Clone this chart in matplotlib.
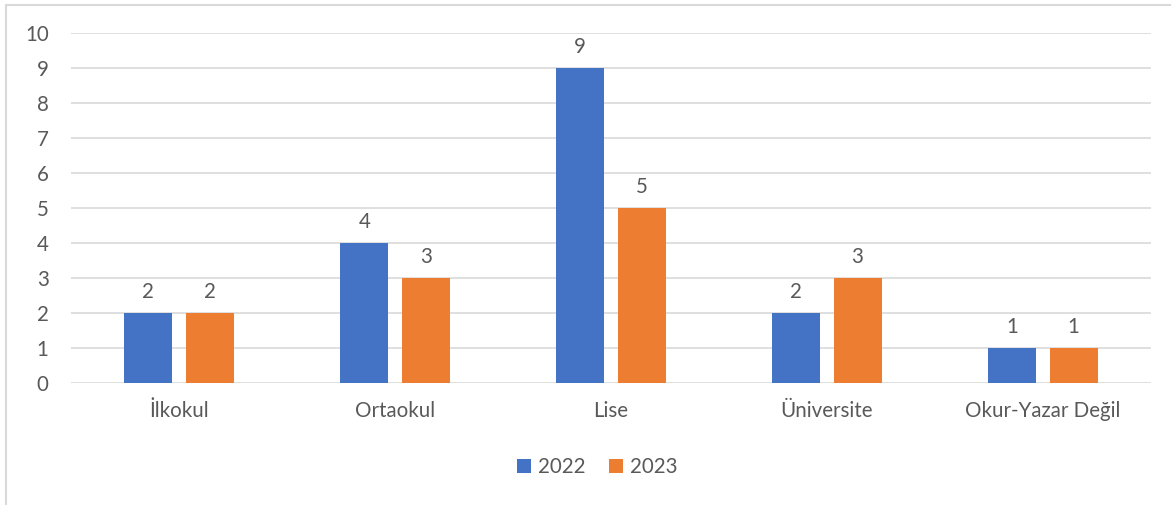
"""Grouped bar chart: education level counts 2022 vs 2023"""

import numpy as np
import matplotlib.pyplot as plt
from matplotlib.patches import Rectangle

categories = ['İlkokul', 'Ortaokul', 'Lise', 'Üniversite', 'Okur-Yazar Değil']
vals_2022 = [2, 4, 9, 2, 1]
vals_2023 = [2, 3, 5, 3, 1]
yticks = list(range(0, 11))

BLUE, ORANGE = '#4472C4', '#ED7D31'
TXT, GRID = '#595959', '#D9D9D9'
FS = 14.8
plt.rcParams['font.family'] = ['Lato', 'DejaVu Sans']

fig = plt.figure(figsize=(11.71, 5.05), dpi=100)
# chart frame: only top and left edges fall inside the image
fig.patches.append(Rectangle((0.005, -0.05), 1.1, 1.04, transform=fig.transFigure,
                             fill=False, edgecolor=GRID, linewidth=1.5))
ax = fig.add_axes([0.0606, 0.2416, 0.9222, 0.6931])

x = np.arange(len(categories))
w = 0.222; off = 0.142
b1 = ax.bar(x - off, vals_2022, w, color=BLUE, label='2022', zorder=3)
b2 = ax.bar(x + off, vals_2023, w, color=ORANGE, label='2023', zorder=3)
for bars in (b1, b2):
    ax.bar_label(bars, padding=8, fontsize=FS, color=TXT)

ax.set_xlim(-0.5, len(categories) - 0.5); ax.set_ylim(0, 10)
ax.set_yticks(yticks); ax.set_xticks(x, categories)
ax.grid(axis='y', color=GRID, linewidth=1.2, zorder=0)
for s in ax.spines.values(): s.set_visible(False)
ax.tick_params(length=0, labelsize=FS, labelcolor=TXT)
ax.tick_params(axis='x', pad=13); ax.tick_params(axis='y', pad=16)

fig.legend(loc='center', bbox_to_anchor=(0.51, 0.075), ncol=2, frameon=False,
           fontsize=FS, labelcolor=TXT, handlelength=0.7, handleheight=0.7,
           handletextpad=0.35, columnspacing=1.1)
plt.savefig('out.png', dpi=100)
